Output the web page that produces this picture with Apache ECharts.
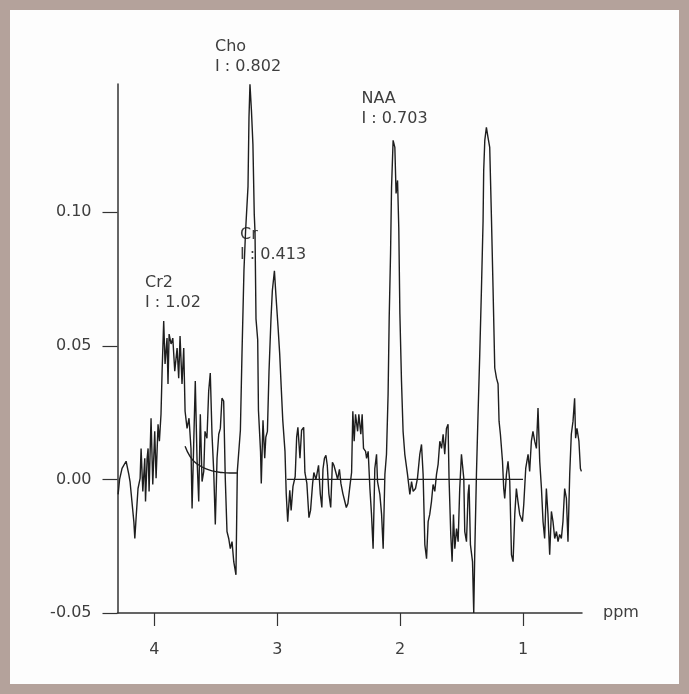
<!DOCTYPE html>
<html>
<head>
<meta charset="utf-8">
<script src="https://cdn.jsdelivr.net/npm/echarts@6/dist/echarts.min.js"></script>
<style>
  html, body { margin: 0; padding: 0; }
  body { width: 689px; height: 694px; background: #b4a29b; position: relative; overflow: hidden; }
  #paper { position: absolute; left: 10px; top: 10px; width: 669px; height: 674px; background: #fdfdfd; }
  #chart { position: absolute; left: 0; top: 0; width: 689px; height: 694px; }
</style>
</head>
<body>
<div id="paper"></div>
<div id="chart"></div>
<script>
// ---- data (ppm, intensity) ----
const spectrum = [
[4.295,-0.0056],[4.283,0.0000],[4.263,0.0041],[4.230,0.0068],[4.208,0.0019],[4.198,-0.0008],[4.167,-0.0158],[4.159,-0.0221],
[4.149,-0.0146],[4.133,-0.0034],[4.116,0.0004],[4.108,0.0116],[4.094,-0.0045],[4.078,0.0079],[4.072,-0.0083],[4.059,0.0079],
[4.051,0.0116],[4.043,-0.0045],[4.027,0.0229],[4.013,-0.0019],[3.997,0.0180],[3.986,0.0004],[3.970,0.0206],[3.959,0.0143],
[3.946,0.0244],[3.937,0.0405],[3.924,0.0593],[3.913,0.0432],[3.897,0.0529],[3.889,0.0357],[3.880,0.0544],[3.864,0.0507],
[3.850,0.0529],[3.834,0.0405],[3.815,0.0492],[3.802,0.0379],[3.791,0.0537],[3.775,0.0357],[3.761,0.0492],[3.750,0.0255],
[3.734,0.0191],[3.718,0.0229],[3.702,0.0116],[3.693,-0.0109],[3.680,0.0131],[3.667,0.0368],[3.653,0.0079],[3.639,-0.0083],
[3.626,0.0244],[3.612,-0.0008],[3.598,0.0030],[3.588,0.0180],[3.572,0.0154],[3.558,0.0330],[3.545,0.0398],[3.531,0.0169],
[3.517,0.0030],[3.504,-0.0169],[3.490,0.0079],[3.476,0.0169],[3.463,0.0191],[3.450,0.0304],[3.436,0.0293],[3.423,0.0004],
[3.409,-0.0195],[3.395,-0.0221],[3.382,-0.0259],[3.368,-0.0233],[3.354,-0.0308],[3.336,-0.0357],[3.325,0.0030],
[3.300,0.0184],[3.287,0.0469],[3.271,0.0781],[3.258,0.0927],[3.238,0.1096],[3.230,0.1355],[3.222,0.1479],[3.210,0.1381],
[3.198,0.1254],[3.187,0.0991],[3.181,0.0927],[3.173,0.0601],[3.159,0.0522],[3.153,0.0259],[3.136,0.0105],[3.130,-0.0015],
[3.116,0.0221],[3.102,0.0079],[3.093,0.0158],[3.080,0.0180],[3.067,0.0405],[3.051,0.0601],[3.040,0.0706],[3.023,0.0781],
[3.011,0.0691],[2.994,0.0574],[2.980,0.0469],[2.967,0.0338],[2.955,0.0221],[2.937,0.0105],[2.927,-0.0053],[2.915,-0.0158],
[2.898,-0.0041],[2.887,-0.0116],[2.872,-0.0026],[2.854,0.0011],[2.842,0.0158],[2.832,0.0195],[2.815,0.0079],[2.802,0.0184],
[2.785,0.0195],[2.775,0.0026],[2.759,-0.0015],[2.742,-0.0143],[2.729,-0.0116],[2.712,-0.0015],[2.702,0.0026],[2.685,0.0000],
[2.664,0.0053],[2.650,-0.0053],[2.637,-0.0105],[2.628,0.0038],[2.616,0.0079],[2.604,0.0090],[2.593,0.0053],[2.580,-0.0053],
[2.565,-0.0105],[2.551,0.0064],[2.539,0.0053],[2.523,0.0026],[2.509,0.0000],[2.494,0.0038],[2.482,-0.0015],[2.466,-0.0053],
[2.452,-0.0079],[2.438,-0.0105],[2.425,-0.0090],[2.409,-0.0026],[2.395,0.0026],[2.385,0.0255],[2.374,0.0143],[2.363,0.0244],
[2.346,0.0180],[2.336,0.0244],[2.320,0.0169],[2.309,0.0244],[2.298,0.0116],[2.281,0.0105],[2.273,0.0079],[2.260,0.0105],
[2.246,-0.0034],[2.233,-0.0131],[2.220,-0.0259],[2.206,0.0041],[2.192,0.0094],[2.184,-0.0008],[2.165,-0.0056],[2.151,-0.0131],
[2.138,-0.0259],[2.124,0.0019],[2.111,0.0094],[2.098,0.0319],[2.089,0.0604],[2.078,0.0845],[2.070,0.1092],[2.057,0.1269],
[2.043,0.1243],[2.033,0.1070],[2.021,0.1119],[2.011,0.0942],[2.002,0.0619],[1.989,0.0368],[1.976,0.0180],[1.962,0.0094],
[1.940,0.0019],[1.921,-0.0056],[1.907,-0.0008],[1.894,-0.0045],[1.875,-0.0034],[1.859,0.0004],[1.840,0.0094],[1.826,0.0131],
[1.813,0.0019],[1.799,-0.0244],[1.785,-0.0297],[1.772,-0.0158],[1.759,-0.0131],[1.745,-0.0083],[1.732,-0.0019],[1.718,-0.0045],
[1.704,0.0019],[1.691,0.0056],[1.677,0.0143],[1.663,0.0116],[1.650,0.0169],[1.637,0.0094],[1.623,0.0191],[1.610,0.0206],
[1.602,0.0004],[1.588,-0.0206],[1.577,-0.0308],[1.566,-0.0131],[1.555,-0.0259],[1.541,-0.0184],[1.528,-0.0233],[1.515,-0.0034],
[1.501,0.0094],[1.482,0.0004],[1.474,-0.0195],[1.460,-0.0233],[1.447,-0.0056],[1.439,-0.0019],[1.428,-0.0244],[1.411,-0.0308],
[1.401,-0.0500],[1.393,-0.0282],[1.379,0.0019],[1.366,0.0244],[1.352,0.0469],[1.338,0.0717],[1.325,0.0968],[1.320,0.1156],
[1.311,0.1269],[1.298,0.1318],[1.285,0.1280],[1.271,0.1243],[1.257,0.0980],[1.244,0.0717],[1.230,0.0417],[1.216,0.0379],
[1.203,0.0357],[1.195,0.0218],[1.184,0.0169],[1.167,0.0068],[1.157,-0.0034],[1.149,-0.0071],[1.135,0.0019],[1.122,0.0068],
[1.108,-0.0008],[1.094,-0.0282],[1.081,-0.0308],[1.067,-0.0131],[1.054,-0.0034],[1.041,-0.0083],[1.027,-0.0131],[1.005,-0.0158],
[0.994,-0.0094],[0.978,0.0041],[0.959,0.0094],[0.946,0.0030],[0.932,0.0143],[0.919,0.0180],[0.905,0.0143],[0.891,0.0116],
[0.878,0.0267],[0.864,0.0068],[0.850,-0.0034],[0.837,-0.0158],[0.824,-0.0221],[0.810,-0.0034],[0.797,-0.0131],[0.783,-0.0282],
[0.769,-0.0120],[0.756,-0.0158],[0.742,-0.0221],[0.728,-0.0195],[0.715,-0.0233],[0.702,-0.0206],[0.688,-0.0221],[0.675,-0.0158],
[0.661,-0.0034],[0.647,-0.0071],[0.634,-0.0233],[0.620,0.0019],[0.607,0.0169],[0.593,0.0218],[0.580,0.0304],[0.572,0.0154],
[0.561,0.0191],[0.545,0.0143],[0.533,0.0041],[0.525,0.0030]
];
// fitted Cr2 tail
const cr2Fit = [[3.750,0.0124],[3.710,0.0086],[3.669,0.0064],[3.628,0.0051],[3.588,0.0041],[3.531,0.0032],[3.450,0.0026],[3.385,0.0024],[3.328,0.0024]];
// fitted baselines
const baseA = [[2.92,0],[2.13,0]];
const baseB = [[1.93,0],[1.00,0]];
// ticks
const xTicks = [1, 2, 3, 4];
const yTicks = [-0.05, 0, 0.05, 0.10];
// peak annotations
const peakNames = ['Cho', 'NAA', 'Cr', 'Cr2'];
const peakIntegrals = ['0.802', '0.703', '0.413', '1.02'];

const FONT = 'DejaVu Sans';
const TXT = '#3e3e3e';
const LINE = '#1e1e1e';

const chart = echarts.init(document.getElementById('chart'), null, { renderer: 'canvas' });

const labelPos = [[215, 38.5], [361.5, 90.5], [240, 227], [145, 275]];
const graphics = [];
peakNames.forEach((n, i) => {
  graphics.push({ type: 'text', left: labelPos[i][0], top: labelPos[i][1],
    style: { text: n, font: '16px "' + FONT + '"', fill: TXT } });
  graphics.push({ type: 'text', left: labelPos[i][0], top: labelPos[i][1] + 20,
    style: { text: 'I : ' + peakIntegrals[i], font: '16px "' + FONT + '"', fill: TXT } });
});

const lineSeries = (data, smooth) => ({
  type: 'line', data: data, showSymbol: false, symbol: 'none', smooth: smooth || false,
  lineStyle: { color: LINE, width: 1.4 }, clip: true, silent: true
});

chart.setOption({
  animation: false,
  backgroundColor: 'transparent',
  grid: { left: 117.5, right: 107, top: 84, bottom: 81 },
  xAxis: {
    type: 'value', inverse: true, min: 0.52, max: 4.3,
    name: 'ppm', nameLocation: 'start', nameGap: 21,
    nameTextStyle: { fontFamily: FONT, fontSize: 16, color: TXT, verticalAlign: 'middle' },
    axisLine: { show: true, onZero: false, lineStyle: { color: '#333', width: 1.5 } },
    axisTick: { show: true, inside: false, length: 13, customValues: xTicks, lineStyle: { color: '#333', width: 1.2 } },
    axisLabel: { customValues: xTicks, margin: 29, fontFamily: FONT, fontSize: 16, color: TXT,
      formatter: v => String(v) },
    splitLine: { show: false }
  },
  yAxis: {
    type: 'value', min: -0.05, max: 0.148,
    axisLine: { show: true, lineStyle: { color: '#333', width: 1.5 } },
    axisTick: { show: true, inside: false, length: 15, customValues: yTicks, lineStyle: { color: '#333', width: 1.2 } },
    axisLabel: { customValues: yTicks, margin: 26, fontFamily: FONT, fontSize: 16, color: TXT,
      formatter: v => v.toFixed(2) },
    splitLine: { show: false }
  },
  series: [
    lineSeries(spectrum),
    lineSeries(cr2Fit, true),
    lineSeries(baseA),
    lineSeries(baseB)
  ],
  graphic: graphics
});
</script>
</body>
</html>
